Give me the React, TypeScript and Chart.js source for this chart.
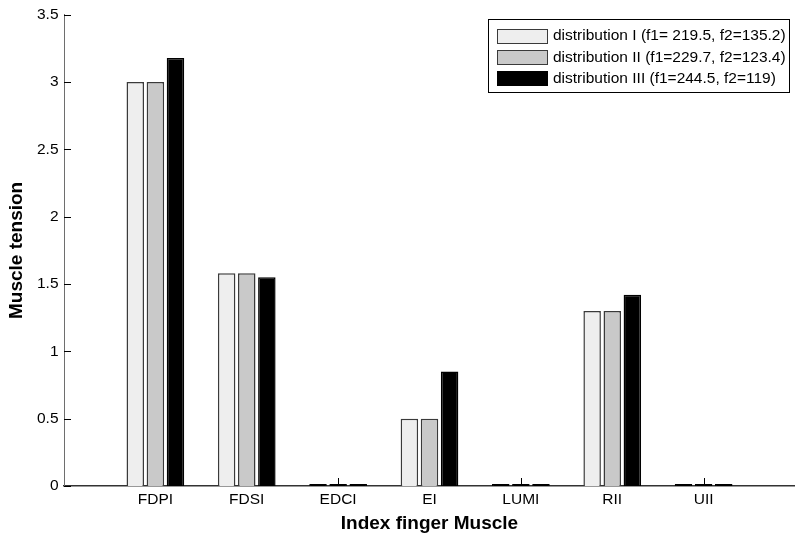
import React, { useEffect, useRef } from "react";
import { Chart, registerables } from "chart.js";

Chart.register(...registerables);

const categories = ["FDPI", "FDSI", "EDCI", "EI", "LUMI", "RII", "UII"];
const seriesLabels = [
  "distribution I (f1= 219.5, f2=135.2)",
  "distribution II (f1=229.7, f2=123.4)",
  "distribution III (f1=244.5, f2=119)",
];
const dist1 = [3.0, 1.58, 0, 0.5, 0, 1.3, 0];
const dist2 = [3.0, 1.58, 0, 0.5, 0, 1.3, 0];
const dist3 = [3.18, 1.55, 0, 0.85, 0, 1.42, 0];
const yTicks = [0, 0.5, 1, 1.5, 2, 2.5, 3, 3.5];

const FONT = '"Liberation Sans", Arial, Helvetica, sans-serif';

const innerTicks = {
  id: "innerTicks",
  beforeDatasetsDraw(chart: any) {
    const { ctx, chartArea, scales } = chart;
    const x = scales.x;
    const y = scales.y;
    ctx.save();
    ctx.strokeStyle = "#000";
    ctx.lineWidth = 1;
    ctx.beginPath();
    y.ticks.forEach((t: any) => {
      const py = Math.round(y.getPixelForValue(t.value)) + 0.5;
      ctx.moveTo(chartArea.left, py);
      ctx.lineTo(chartArea.left + 7, py);
    });
    x.ticks.forEach((t: any) => {
      const px = Math.round(x.getPixelForValue(t.value)) + 0.5;
      ctx.moveTo(px, chartArea.bottom);
      ctx.lineTo(px, chartArea.bottom - 8);
    });
    ctx.stroke();
    ctx.restore();
  },
};

const boxLegend = {
  id: "boxLegend",
  afterDraw(chart: any) {
    const { ctx } = chart;
    const ds = chart.data.datasets;
    ctx.save();
    ctx.font = `15.5px ${FONT}`;
    let maxW = 0;
    ds.forEach((d: any) => {
      maxW = Math.max(maxW, ctx.measureText(d.label).width);
    });
    const swW = 50;
    const swH = 14;
    const padL = 9;
    const gap = 6;
    const padR = 3;
    const pitch = 21.3;
    const boxW = Math.round(padL + swW + gap + maxW + padR);
    const right = chart.width - 6;
    const left = right - boxW;
    const top = 19;
    const boxH = 73;
    ctx.fillStyle = "#fff";
    ctx.fillRect(left + 0.5, top + 0.5, boxW, boxH);
    ctx.strokeStyle = "#000";
    ctx.lineWidth = 1;
    ctx.strokeRect(left + 0.5, top + 0.5, boxW, boxH);
    ds.forEach((d: any, i: number) => {
      const cy = top + 16.5 + i * pitch;
      const sx = left + padL;
      const sy = Math.round(cy - swH / 2);
      ctx.fillStyle = d.legendFill;
      ctx.fillRect(sx + 0.5, sy + 0.5, swW, swH);
      ctx.strokeStyle = d.legendStroke;
      ctx.strokeRect(sx + 0.5, sy + 0.5, swW, swH);
      ctx.fillStyle = "#000";
      ctx.textBaseline = "middle";
      ctx.textAlign = "left";
      ctx.fillText(d.label, sx + swW + gap, cy + 0.5);
    });
    ctx.restore();
  },
};

export default function App() {
  const ref = useRef<HTMLCanvasElement>(null);
  useEffect(() => {
    if (!ref.current) return;
    const fills = ["#eeeeee", "#c9c9c9", "#000000"];
    const borders = ["#3a3a3a", "#3a3a3a", "#000000"];
    const series = [dist1, dist2, dist3];
    const chart = new Chart(ref.current, {
      type: "bar",
      data: {
        datasets: series.map((s, k) => ({
          label: seriesLabels[k],
          legendFill: fills[k],
          legendStroke: borders[k],
          data: s.map((v, i) => ({ x: i + 1, y: v })),
          backgroundColor: (c: any) => (c.raw && c.raw.y === 0 ? "#000" : fills[k]),
          borderColor: (c: any) => (c.raw && c.raw.y === 0 ? "#000" : borders[k]),
          borderWidth: 1.5,
          categoryPercentage: 0.66,
          barPercentage: 0.87,
          minBarLength: 2,
        })),
      },
      options: {
        animation: false,
        responsive: false,
        devicePixelRatio: 1,
        layout: { padding: { left: 0, right: -8, top: 13, bottom: 0 } },
        plugins: {
          legend: { display: false },
          tooltip: { enabled: false },
        },
        scales: {
          x: {
            type: "linear",
            min: 0,
            max: 8,
            offset: false,
            grid: { display: false, drawTicks: false },
            border: { display: true, color: "#333", width: 1.5 },
            afterBuildTicks: (scale: any) => {
              scale.ticks = categories.map((_, i) => ({ value: i + 1 }));
            },
            afterFit: (scale: any) => {
              scale.height = 50;
            },
            ticks: {
              autoSkip: false,
              maxRotation: 0,
              padding: 4,
              color: "#000",
              font: { family: FONT, size: 15.5 },
              callback: (v: any) => categories[Number(v) - 1] ?? "",
            },
            title: {
              display: true,
              text: "Index finger Muscle",
              color: "#000",
              font: { family: FONT, size: 19, weight: "bold" },
              padding: { top: 0, bottom: 0.6 },
            },
          },
          y: {
            type: "linear",
            min: 0,
            max: 3.5,
            grid: { display: false, drawTicks: false },
            border: { display: true, color: "#6e6e6e", width: 1 },
            afterBuildTicks: (scale: any) => {
              scale.ticks = yTicks.map((v) => ({ value: v }));
            },
            afterFit: (scale: any) => {
              scale.width = 64;
            },
            ticks: {
              padding: 5.5,
              color: "#000",
              font: { family: FONT, size: 15.5 },
              callback: (v: any) => String(v),
            },
            title: {
              display: true,
              text: "Muscle tension",
              color: "#000",
              font: { family: FONT, size: 19, weight: "bold" },
              padding: { top: 5.6, bottom: 0 },
            },
          },
        },
      },
      plugins: [innerTicks, boxLegend],
    } as any);
    return () => chart.destroy();
  }, []);
  return (
    <div style={{ position: "fixed", left: 0, top: 0, width: 795, height: 536, background: "#fff" }}>
      <canvas ref={ref} width={795} height={536} style={{ display: "block" }} />
    </div>
  );
}
